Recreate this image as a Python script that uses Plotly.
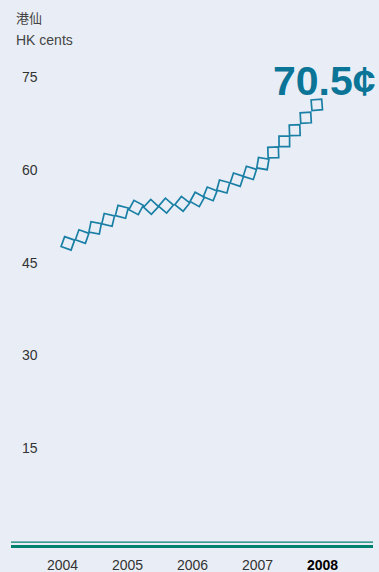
import math
import plotly.graph_objects as go

# Data
years = [2004.09, 2004.31, 2004.51, 2004.71, 2004.92, 2005.14, 2005.37, 2005.60, 2005.85,
         2006.08, 2006.28, 2006.48, 2006.69, 2006.89, 2007.09, 2007.25, 2007.42, 2007.58,
         2007.75, 2007.92]
price = [48.1, 49.2, 50.6, 51.9, 53.2, 53.9, 54.0, 54.2, 54.5, 55.2, 56.1, 57.3, 58.4,
         59.5, 61.0, 62.8, 64.6, 66.4, 68.4, 70.5]
y_ticks = [75, 60, 45, 30, 15]
x_ticks = [2004, 2005, 2006, 2007, 2008]
x_tick_labels = ["2004", "2005", "2006", "2007", "<b>2008</b>"]
headline = "70.5¢"

W, H = 379, 572
BG = "#e9eef6"
TEAL = "#1a7fa5"
GREEN = "#00806f"
FONT = "Liberation Sans, Arial, sans-serif"

# axis mapping: 2004 -> px 62, 65 px/year; 0 -> px 540.75, 6.183 px/unit
px_year = 65.0
x0 = 2004 - 62 / px_year
x1 = 2004 + (W - 62) / px_year
ppu = 6.183
y_top = 540.75 / ppu
y_bot = -(H - 540.75) / ppu

# marker orientation follows the path direction (screen space)
angles = []
n = len(years)
for i in range(n):
    a, b = (i - 1, i) if i > 0 else (0, 1)
    dx = (years[b] - years[a]) * px_year
    dy = (price[b] - price[a]) * ppu
    angles.append(-math.degrees(math.atan2(dy, dx)))

fig = go.Figure()
fig.add_trace(go.Scatter(
    x=years, y=price, mode="markers",
    marker=dict(symbol="diamond-open", size=11.5, angle=angles,
                color=TEAL, line=dict(color=TEAL, width=1.7)),
    hoverinfo="skip", showlegend=False,
))

anns = []
for v in y_ticks:
    anns.append(dict(x=30 / W, xref="paper", y=v, yref="y", text=str(v), showarrow=False,
                     xanchor="center", yanchor="middle",
                     font=dict(family=FONT, size=14, color="#333333")))
for xv, lab in zip(x_ticks, x_tick_labels):
    anns.append(dict(x=xv, xref="x", y=1 - 565 / H, yref="paper", text=lab, showarrow=False,
                     xanchor="center", yanchor="middle",
                     font=dict(family=FONT, size=14, color="#333333" if "<b>" not in lab else "#000000")))
anns.append(dict(x=14 / W, xref="paper", y=1 - 18 / H, yref="paper", text="港仙",
                 showarrow=False, xanchor="left", yanchor="middle",
                 font=dict(family="Noto Sans CJK TC", size=13, color="#444444")))
anns.append(dict(x=14 / W, xref="paper", y=1 - 40 / H, yref="paper", text="HK cents",
                 showarrow=False, xanchor="left", yanchor="middle",
                 font=dict(family=FONT, size=14, color="#444444")))
anns.append(dict(x=378 / W, xref="paper", y=1 - 81 / H, yref="paper", text="<b>" + headline + "</b>",
                 showarrow=False, xanchor="right", yanchor="middle",
                 font=dict(family=FONT, size=41, color="#0b7597")))

shapes = [
    dict(type="line", xref="paper", yref="paper", x0=11 / W, x1=373 / W,
         y0=1 - 542.2 / H, y1=1 - 542.2 / H, line=dict(color=GREEN, width=1.2)),
    dict(type="line", xref="paper", yref="paper", x0=11 / W, x1=373 / W,
         y0=1 - 546.5 / H, y1=1 - 546.5 / H, line=dict(color=GREEN, width=3.2)),
]

fig.update_layout(
    width=W, height=H, margin=dict(l=0, r=0, t=0, b=0),
    paper_bgcolor=BG, plot_bgcolor=BG,
    xaxis=dict(range=[x0, x1], visible=False, fixedrange=True),
    yaxis=dict(range=[y_bot, y_top], visible=False, fixedrange=True),
    annotations=anns, shapes=shapes,
)

fig.write_html("out.html")
